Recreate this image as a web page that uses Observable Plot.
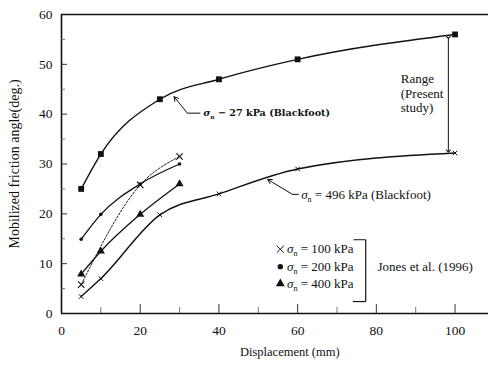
<!DOCTYPE html>
<html>
<head>
<meta charset="utf-8">
<script src="https://cdn.jsdelivr.net/npm/d3@7"></script>
<script src="https://cdn.jsdelivr.net/npm/@observablehq/plot@0.6"></script>
<style>
  html, body { margin: 0; padding: 0; background: #fff; }
  #chart svg { display: block; }
</style>
</head>
<body>
<div id="chart"></div>
<script>
// Mobilized friction angle vs. displacement — present study (Blackfoot) and Jones et al. (1996)

// Present study, σn = 27 kPa (Blackfoot)
const disp27 = [5, 10, 25, 40, 60, 100];
const phi27 = [25, 32, 43, 47, 51, 56];

// Present study, σn = 496 kPa (Blackfoot)
const disp496 = [5, 10, 25, 40, 60, 100];
const phi496 = [3.4, 7, 19.8, 24, 29, 32.2];

// Jones et al. (1996)
const disp100 = [5, 20, 30];
const phi100 = [5.8, 25.8, 31.5];
const disp200 = [5, 10, 20, 30];
const phi200 = [14.9, 19.9, 26, 30];
const disp400 = [5, 10, 20, 30];
const phi400 = [7.9, 12.5, 19.9, 26];

// Axis ticks
const xTickLabels = [0, 20, 40, 60, 80, 100];
const xMinorTicks = [10, 30, 50, 70, 90];
const yTickLabels = [0, 10, 20, 30, 40, 50, 60];
const yMinorTicks = [5, 15, 25, 35, 45, 55];

// Legend entries (Jones et al.)
const legendLabels = ["σn = 100 kPa", "σn = 200 kPa", "σn = 400 kPa"];
const legendSymbols = ["times", "circle", "triangle"];

const toRows = (xs, ys) => xs.map((x, i) => ({x, y: ys[i]}));
const s27 = toRows(disp27, phi27);
const s496 = toRows(disp496, phi496);
const s100 = toRows(disp100, phi100);
const s200 = toRows(disp200, phi200);
const s400 = toRows(disp400, phi400);

const W = 488, H = 366;
const mL = 61, mT = 14, mR = 0, mB = 53;
const innerW = W - mL - mR, innerH = H - mT - mB;

const serif = "'Liberation Serif', 'Times New Roman', serif";
const curve = "monotone-x";

// legend rows in data units
const legendY = [12.9, 9.4, 6.0];
const legendRows = legendLabels.map((t, i) => ({t, y: legendY[i], s: legendSymbols[i]}));

const chart = Plot.plot({
  width: W,
  height: H,
  marginLeft: mL,
  marginTop: mT,
  marginRight: mR,
  marginBottom: mB,
  x: {domain: [0, 108.5]},
  y: {domain: [0, 60]},
  style: {fontFamily: serif, fontSize: "13px", color: "#111", background: "#fff"},
  marks: [
    // frame lines
    Plot.ruleY([0, 60], {stroke: "#111", strokeWidth: 1.6}),
    Plot.ruleX([0], {stroke: "#111", strokeWidth: 1.6}),
    // inward ticks
    Plot.tickY(yTickLabels.slice(1, -1), {y: d => d, insetRight: innerW - 6, stroke: "#333", strokeWidth: 1}),
    Plot.tickY(yMinorTicks, {y: d => d, insetRight: innerW - 4, stroke: "#555", strokeWidth: 0.8}),
    Plot.tickX(xTickLabels.slice(1), {x: d => d, insetTop: innerH - 9, stroke: "#333", strokeWidth: 1}),
    Plot.tickX(xMinorTicks, {x: d => d, insetTop: innerH - 6, stroke: "#555", strokeWidth: 0.8}),
    // axes
    Plot.axisX({ticks: xTickLabels, tickSize: 0, tickPadding: 12, label: null, fontSize: 13.5}),
    Plot.axisY({ticks: yTickLabels, tickSize: 0, tickPadding: 9, label: null, fontSize: 13.5}),
    Plot.text(["Displacement (mm)"], {x: 58, frameAnchor: "bottom", dy: 42, fontSize: 12.5}),
    Plot.text(["Mobilized friction angle(deg.)"], {y: 30, frameAnchor: "left", dx: -47, rotate: -90, textAnchor: "middle", fontSize: 14}),

    // present study curves
    Plot.line(s27, {x: "x", y: "y", curve, stroke: "#111", strokeWidth: 1.4}),
    Plot.dot(s27, {x: "x", y: "y", symbol: "square", r: 3.3, fill: "#111"}),
    Plot.line(s496, {x: "x", y: "y", curve, stroke: "#111", strokeWidth: 1.4}),
    Plot.dot(s496, {x: "x", y: "y", symbol: "times", r: 2.2, stroke: "#111", strokeWidth: 1}),

    // Jones et al. curves
    Plot.line(s100, {x: "x", y: "y", curve, stroke: "#222", strokeWidth: 1, strokeDasharray: "2,1.6"}),
    Plot.dot(s100, {x: "x", y: "y", symbol: "times", r: 3, stroke: "#111", strokeWidth: 1.1}),
    Plot.line(s200, {x: "x", y: "y", curve, stroke: "#111", strokeWidth: 1.3}),
    Plot.dot(s200, {x: "x", y: "y", symbol: "circle", r: 1.8, fill: "#111"}),
    Plot.line(s400, {x: "x", y: "y", curve, stroke: "#111", strokeWidth: 1.3}),
    Plot.dot(s400, {x: "x", y: "y", symbol: "triangle", r: 3, fill: "#111"}),

    // curve labels with leaders
    Plot.arrow({length: 1}, {x1: 32, y1: 40.2, x2: 28.6, y2: 43.5, stroke: "#111", strokeWidth: 1, headLength: 7}),
    Plot.link({length: 1}, {x1: 32, y1: 40.2, x2: 35.3, y2: 40.2, stroke: "#111", strokeWidth: 1}),
    Plot.text(["σn − 27 kPa (Blackfoot)"], {x: 36, y: 40.2, textAnchor: "start", fontFamily: "'DejaVu Serif', serif", fontWeight: "bold", fontSize: 9.6}),

    Plot.arrow({length: 1}, {x1: 58.7, y1: 23.9, x2: 52.4, y2: 26.9, stroke: "#111", strokeWidth: 1, headLength: 7}),
    Plot.link({length: 1}, {x1: 58.7, y1: 23.9, x2: 60.3, y2: 23.9, stroke: "#111", strokeWidth: 1}),
    Plot.text(["σn = 496 kPa (Blackfoot)"], {x: 60.9, y: 23.9, textAnchor: "start", fontSize: 13}),

    // range arrow
    Plot.link({length: 1}, {x1: 98.3, y1: 55.4, x2: 98.3, y2: 32.6, stroke: "#111", strokeWidth: 1, markerStart: "arrow", markerEnd: "arrow"}),
    Plot.text(["Range\n(Present\nstudy)"], {x: 86.2, y: 44.2, textAnchor: "start", lineAnchor: "middle", fontSize: 13, lineHeight: 1.12}),

    // Jones et al. legend with bracket
    Plot.dot(legendRows, {x: 55.6, y: "y", symbol: "s", r: d => d.s === "circle" ? 1.8 : 2.6, fill: d => d.s === "times" ? "none" : "#111", stroke: d => d.s === "times" ? "#111" : "none", strokeWidth: 1}),
    Plot.text(legendRows, {x: 57.3, y: "y", text: "t", textAnchor: "start", fontSize: 13}),
    Plot.link({length: 1}, {x1: 77.3, y1: 14.8, x2: 77.3, y2: 2.4, stroke: "#111", strokeWidth: 1.2}),
    Plot.link({length: 1}, {x1: 74.2, y1: 14.8, x2: 77.3, y2: 14.8, stroke: "#111", strokeWidth: 1}),
    Plot.link({length: 1}, {x1: 74.0, y1: 2.4, x2: 77.3, y2: 2.4, stroke: "#111", strokeWidth: 1.2}),
    Plot.text(["Jones et al. (1996)"], {x: 80.3, y: 9.4, textAnchor: "start", fontSize: 13})
  ]
});

// Typeset "σn" as σ with a subscript n
chart.querySelectorAll("text").forEach(t => {
  if (t.children.length === 0 && t.textContent.startsWith("σn")) {
    const rest = t.textContent.slice(2);
    const ns = "http://www.w3.org/2000/svg";
    t.textContent = "";
    const a = document.createElementNS(ns, "tspan");
    a.textContent = "σ";
    a.setAttribute("font-style", "italic");
    const b = document.createElementNS(ns, "tspan");
    b.textContent = "n";
    b.setAttribute("font-size", "0.62em");
    b.setAttribute("dy", "3");
    const c = document.createElementNS(ns, "tspan");
    c.textContent = rest;
    c.setAttribute("dy", "-3");
    t.append(a, b, c);
  }
});

document.getElementById("chart").appendChild(chart);
</script>
</body>
</html>
